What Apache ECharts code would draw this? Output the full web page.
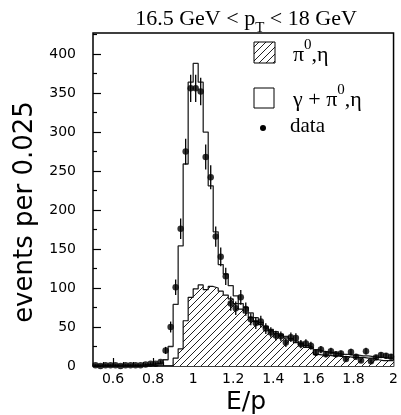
<!DOCTYPE html>
<html><head><meta charset="utf-8">
<script src="https://cdn.jsdelivr.net/npm/echarts@6/dist/echarts.min.js"></script>
<style>html,body{margin:0;padding:0;background:#fff}#c{width:401px;height:415px}</style>
</head><body><div id="c"></div>
<script>
// bin edges of E/p (width 0.025)
const binEdges = [0.5,0.525,0.55,0.575,0.6,0.625,0.65,0.675,0.7,0.725,0.75,0.775,0.8,0.825,0.85,0.875,0.9,0.925,0.95,0.975,1.0,1.025,1.05,1.075,1.1,1.125,1.15,1.175,1.2,1.225,1.25,1.275,1.3,1.325,1.35,1.375,1.4,1.425,1.45,1.475,1.5,1.525,1.55,1.575,1.6,1.625,1.65,1.675,1.7,1.725,1.75,1.775,1.8,1.825,1.85,1.875,1.9,1.925,1.95,1.975,2.0];
// gamma + pi0,eta (open histogram)
const openHist = [1,1,1,1,1,1,1,1,1,1,2,2,3,4,8,25,79,154,259,364,388,364,300,231,172,130,118,103,90,80,75,68,62,56,51,47,44,41,38,35,32,29,26,24,21,19,18,17,16,15,15,14,14,13,13,12,11,11,10,10];
// pi0,eta (hatched histogram)
const hatchHist = [0,0,0,0,0,0,0,0,0,0,0,0,0,0,0,0,10,22,58,88,99,104,98,102,100,96,91,86,80,73,68,62,57,53,49,45,42,39,36,33,30,27,24,22,15,14,14,13,13,12,12,11,11,11,10,10,8,7,7,7];
// data points (bin centres) and their errors
const dataVals = [1,0,1,1,1,0,1,1,1,1,2,3,3,5,20,50,101,176,275,356,356,352,268,242,166,140,115,80,74,88,73,60,55,57,48,43,39,38,30,37,36,28,29,26,17,21,15,19,15,16,9,18,12,7,19,6,11,14,13,12];
const dataErr = [1,0,1,1,1,0,1,1,1,1,1.4,1.7,1.7,2.2,4.5,7,10,13,16.5,17.5,17.5,17.5,16,15.5,13,12,11,9,8.6,9.4,8.5,7.7,7.4,7.5,6.9,6.6,6.2,6.2,5.5,6.1,6,5.3,5.4,5.1,4.1,4.6,3.9,4.4,3.9,4,3,4.2,3.5,2.6,4.4,2.4,3.3,3.7,3.6,3.5];
// axis ticks
const xMajorTicks = [0.6,0.8,1.0,1.2,1.4,1.6,1.8,2.0];
const xMinorTicks = [0.55,0.6,0.65,0.7,0.75,0.8,0.85,0.9,0.95,1.0,1.05,1.1,1.15,1.2,1.25,1.3,1.35,1.4,1.45,1.5,1.55,1.6,1.65,1.7,1.75,1.8,1.85,1.9,1.95];
const yMajorTicks = [0,50,100,150,200,250,300,350,400];
const yMinorTicks = [25,75,125,175,225,275,325,375,425];

const hatch = document.createElement('canvas');
hatch.width = 7; hatch.height = 7;
(function(){
  const c = hatch.getContext('2d');
  c.fillStyle = '#fff'; c.fillRect(0,0,7,7);
  c.strokeStyle = '#222'; c.lineWidth = 1;
  c.beginPath();
  c.moveTo(-1,8); c.lineTo(8,-1);
  c.moveTo(-1,1); c.lineTo(1,-1);
  c.moveTo(6,8); c.lineTo(8,6);
  c.stroke();
})();
const hatchFill = {image: hatch, repeat: 'repeat'};

function stepData(vals){
  const d = vals.map((v,i)=>[binEdges[i], v]);
  d.push([binEdges[vals.length], vals[vals.length-1]]);
  return d;
}
const points = dataVals.map((v,i)=>[(binEdges[i]+binEdges[i+1])/2, v, dataErr[i]]);

const chart = echarts.init(document.getElementById('c'));
const serif = 'Liberation Serif';
const sans = 'DejaVu Sans';
chart.setOption({
  animation: false,
  grid: {left:93, right:6, top:33, bottom:49, show:true, borderColor:'#000', borderWidth:1.5},
  xAxis: [{
    type:'value', min:0.5, max:2,
    axisLine:{show:false}, splitLine:{show:false},
    axisTick:{inside:true, length:8, customValues:xMajorTicks, lineStyle:{color:'#000', width:1.2}},
    axisLabel:{customValues:xMajorTicks, margin:6, fontFamily:sans, fontSize:14, color:'#000',
      formatter: v => String(+v.toFixed(2))}
  },{
    type:'value', min:0.5, max:2, position:'bottom',
    axisLine:{show:false}, splitLine:{show:false}, axisLabel:{show:false},
    axisTick:{inside:true, length:4, customValues:xMinorTicks, lineStyle:{color:'#000', width:1.2}}
  }],
  yAxis: [{
    type:'value', min:0, max:427,
    axisLine:{show:false}, splitLine:{show:false},
    axisTick:{inside:true, length:8, customValues:yMajorTicks, lineStyle:{color:'#000', width:1.2}},
    axisLabel:{customValues:yMajorTicks, margin:17, fontFamily:sans, fontSize:14, color:'#000'}
  },{
    type:'value', min:0, max:427, position:'left',
    axisLine:{show:false}, splitLine:{show:false}, axisLabel:{show:false},
    axisTick:{inside:true, length:4, customValues:yMinorTicks, lineStyle:{color:'#000', width:1.2}}
  }],
  series: [{
    type:'line', step:'end', symbol:'none', data: stepData(hatchHist), z:2,
    lineStyle:{color:'#111', width:1.2}, areaStyle:{color:hatchFill, opacity:1}
  },{
    type:'line', step:'end', symbol:'none', data: stepData(openHist), z:3,
    lineStyle:{color:'#222', width:1.3}
  },{
    type:'custom', data: points, z:4, clip:true,
    renderItem: (params, api) => {
      const x = api.value(0), y = api.value(1), e = api.value(2);
      const p1 = api.coord([x, Math.max(0, y - e)]);
      const p2 = api.coord([x, y + e]);
      return {type:'line', shape:{x1:p1[0], y1:p1[1], x2:p2[0], y2:p2[1]}, style:{stroke:'#000', lineWidth:1.3}};
    }
  },{
    type:'scatter', data: points.map(p=>[p[0],p[1]]), symbol:'circle', symbolSize:6.5, z:5,
    itemStyle:{color:'#000'}
  }],
  graphic: [
    {type:'text', x:246, y:8, style:{
      text:'{a|16.5 GeV < p}{s|T}{a| < 18 GeV}', align:'center', verticalAlign:'top', fill:'#000',
      rich:{a:{fontFamily:serif, fontSize:22, lineHeight:23, verticalAlign:'top'},
            s:{fontFamily:serif, fontSize:15, lineHeight:15, padding:[13,0,0,0], verticalAlign:'top'}}}},
    {type:'text', x:246, y:402, style:{text:'E/p', font:'25px "DejaVu Sans"', align:'center', verticalAlign:'middle', fill:'#000'}},
    {type:'text', x:25, y:212, rotation:Math.PI/2, style:{text:'events per 0.025', font:'26px "DejaVu Sans"', align:'center', verticalAlign:'middle', fill:'#000'}},
    {type:'rect', shape:{x:254, y:42, width:21, height:21}, style:{fill:hatchFill, stroke:'#000', lineWidth:1}},
    {type:'text', x:293, y:38, style:{
      text:'{a|π}{u|0}{a|,η}', align:'left', verticalAlign:'top', fill:'#000',
      rich:{a:{fontFamily:serif, fontSize:22, lineHeight:23, padding:[6,0,0,0], verticalAlign:'top'},
            u:{fontFamily:serif, fontSize:15, lineHeight:15, verticalAlign:'top'}}}},
    {type:'rect', shape:{x:254, y:88, width:20, height:20}, style:{fill:'#fff', stroke:'#000', lineWidth:1}},
    {type:'text', x:293, y:83, style:{
      text:'{a|γ + π}{u|0}{a|,η}', align:'left', verticalAlign:'top', fill:'#000',
      rich:{a:{fontFamily:serif, fontSize:22, lineHeight:23, padding:[6,0,0,0], verticalAlign:'top'},
            u:{fontFamily:serif, fontSize:15, lineHeight:15, verticalAlign:'top'}}}},
    {type:'circle', shape:{cx:263, cy:128, r:3}, style:{fill:'#000'}},
    {type:'text', x:290, y:126, style:{text:'data', font:'21px "Liberation Serif"', align:'left', verticalAlign:'middle', fill:'#000'}}
  ]
});
</script></body></html>
